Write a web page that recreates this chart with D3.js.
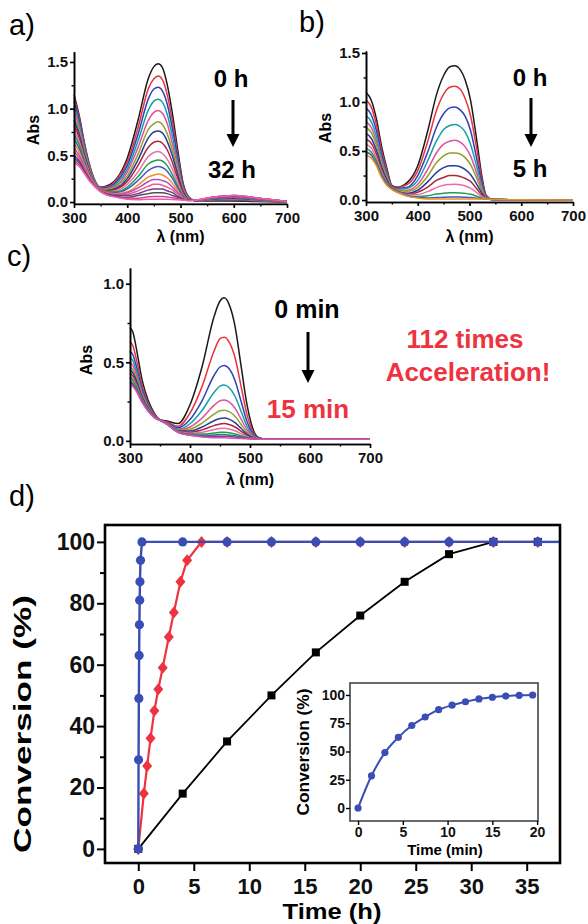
<!DOCTYPE html>
<html><head><meta charset="utf-8">
<script src="https://cdn.jsdelivr.net/npm/d3@7"></script>
<style>body{margin:0;background:#fff} svg{display:block}</style>
</head><body><svg id="c" width="588" height="924"></svg>
<script>
// ---------- Panel a data ----------
const WL_A = [300,310,320,330,340,350,360,380,400,420,440,450,458,466,475,485,495,505,515,530,560,600,640,700];
const ABS_A = [
[1.15,0.92,0.62,0.38,0.22,0.16,0.17,0.25,0.47,0.87,1.33,1.45,1.48,1.44,1.26,0.94,0.55,0.20,0.06,0.01,0.01,0.01,0.005,0],
[1.12,0.898,0.607,0.373,0.218,0.158,0.16,0.24,0.43,0.79,1.22,1.32,1.35,1.31,1.15,0.86,0.50,0.18,0.055,0.012,0.017,0.02,0.012,0.001],
[1.08,0.868,0.589,0.365,0.214,0.155,0.15,0.22,0.39,0.72,1.11,1.21,1.23,1.19,1.05,0.78,0.46,0.17,0.05,0.013,0.02,0.025,0.015,0.002],
[1.03,0.831,0.568,0.354,0.21,0.152,0.14,0.20,0.35,0.65,0.99,1.08,1.10,1.07,0.94,0.70,0.41,0.15,0.05,0.014,0.024,0.03,0.019,0.002],
[0.98,0.794,0.545,0.343,0.206,0.148,0.14,0.18,0.32,0.58,0.88,0.96,0.98,0.95,0.84,0.62,0.37,0.14,0.045,0.015,0.027,0.035,0.022,0.003],
[0.93,0.757,0.524,0.332,0.202,0.145,0.13,0.17,0.28,0.51,0.78,0.84,0.86,0.83,0.73,0.55,0.32,0.12,0.04,0.016,0.031,0.04,0.026,0.003],
[0.88,0.72,0.502,0.321,0.198,0.142,0.12,0.15,0.25,0.45,0.69,0.75,0.76,0.74,0.65,0.49,0.29,0.11,0.037,0.016,0.031,0.04,0.026,0.003],
[0.83,0.683,0.48,0.31,0.194,0.138,0.12,0.14,0.22,0.39,0.59,0.64,0.65,0.63,0.56,0.42,0.25,0.10,0.034,0.017,0.034,0.045,0.03,0.004],
[0.78,0.646,0.458,0.299,0.19,0.135,0.11,0.12,0.19,0.32,0.49,0.53,0.54,0.52,0.46,0.35,0.21,0.08,0.031,0.018,0.038,0.05,0.033,0.004],
[0.73,0.61,0.436,0.288,0.186,0.131,0.11,0.11,0.16,0.27,0.41,0.44,0.45,0.44,0.39,0.29,0.17,0.07,0.028,0.018,0.038,0.05,0.033,0.004],
[0.68,0.572,0.414,0.277,0.181,0.128,0.10,0.10,0.14,0.23,0.34,0.37,0.38,0.37,0.33,0.25,0.15,0.06,0.026,0.019,0.041,0.055,0.036,0.005],
[0.63,0.536,0.392,0.266,0.177,0.124,0.10,0.09,0.11,0.18,0.27,0.29,0.30,0.29,0.26,0.20,0.12,0.05,0.023,0.02,0.045,0.06,0.04,0.005],
[0.58,0.498,0.37,0.255,0.173,0.121,0.095,0.08,0.10,0.15,0.22,0.24,0.24,0.23,0.21,0.16,0.10,0.05,0.022,0.02,0.045,0.06,0.04,0.005],
[0.54,0.469,0.352,0.246,0.17,0.118,0.09,0.07,0.08,0.12,0.17,0.19,0.19,0.18,0.16,0.13,0.08,0.04,0.02,0.021,0.048,0.065,0.043,0.006],
[0.50,0.439,0.335,0.238,0.167,0.116,0.09,0.07,0.07,0.09,0.13,0.14,0.14,0.14,0.12,0.10,0.06,0.03,0.02,0.021,0.048,0.065,0.043,0.006],
[0.47,0.417,0.322,0.231,0.164,0.113,0.085,0.06,0.05,0.07,0.09,0.10,0.10,0.10,0.09,0.07,0.05,0.03,0.02,0.022,0.052,0.07,0.047,0.006],
[0.44,0.395,0.309,0.224,0.162,0.111,0.08,0.055,0.04,0.04,0.056,0.06,0.06,0.06,0.054,0.045,0.034,0.025,0.016,0.022,0.052,0.07,0.047,0.006],
[0.42,0.38,0.30,0.22,0.16,0.11,0.08,0.05,0.03,0.025,0.03,0.03,0.03,0.03,0.03,0.026,0.024,0.02,0.015,0.022,0.052,0.07,0.047,0.006]
];
const COLORS_A = ["#1a1a1a","#e8343c","#3040b8","#14a0a8","#e0509c","#94a02c","#283c9c","#a8283c","#f06aa8","#20a04a","#4058c8","#f09020","#b050c0","#f05890","#703898","#505050","#d040a8","#f060a8"];

// ---------- Panel b data ----------
const WL_B = [300,310,320,330,340,350,360,380,400,420,436,450,462,472,482,492,502,514,524,532,545,600,700];
const ABS_B = [
[1.10,1.02,0.83,0.55,0.33,0.15,0.13,0.18,0.35,0.72,1.07,1.27,1.36,1.37,1.33,1.22,1.02,0.61,0.24,0.05,0.005,0.003,0],
[1.02,0.95,0.77,0.51,0.31,0.14,0.13,0.16,0.30,0.61,0.91,1.08,1.15,1.16,1.13,1.03,0.86,0.52,0.21,0.045,0.005,0.003,0],
[0.94,0.87,0.71,0.47,0.28,0.14,0.12,0.13,0.25,0.50,0.74,0.88,0.94,0.95,0.92,0.85,0.71,0.42,0.17,0.04,0.005,0.003,0],
[0.86,0.80,0.65,0.43,0.26,0.13,0.11,0.12,0.20,0.41,0.60,0.72,0.76,0.77,0.75,0.69,0.57,0.34,0.14,0.03,0.005,0.003,0],
[0.80,0.74,0.60,0.40,0.24,0.13,0.10,0.10,0.16,0.32,0.48,0.57,0.60,0.61,0.59,0.54,0.45,0.27,0.11,0.03,0.005,0.003,0],
[0.74,0.69,0.56,0.37,0.23,0.13,0.10,0.09,0.13,0.25,0.38,0.45,0.48,0.48,0.47,0.43,0.36,0.22,0.09,0.024,0.005,0.003,0],
[0.68,0.63,0.51,0.34,0.21,0.12,0.09,0.07,0.10,0.19,0.28,0.33,0.35,0.35,0.34,0.31,0.26,0.16,0.07,0.02,0.005,0.003,0],
[0.62,0.58,0.47,0.31,0.19,0.12,0.09,0.06,0.08,0.135,0.20,0.23,0.25,0.25,0.24,0.22,0.19,0.115,0.05,0.017,0.005,0.003,0],
[0.57,0.53,0.43,0.29,0.18,0.11,0.086,0.055,0.056,0.088,0.127,0.15,0.158,0.16,0.156,0.144,0.121,0.076,0.036,0.015,0.005,0.003,0],
[0.53,0.49,0.40,0.27,0.17,0.11,0.083,0.047,0.036,0.044,0.061,0.07,0.074,0.075,0.073,0.068,0.058,0.039,0.021,0.012,0.005,0.003,0],
[0.49,0.46,0.37,0.25,0.16,0.11,0.081,0.042,0.025,0.02,0.026,0.029,0.03,0.03,0.03,0.028,0.025,0.019,0.013,0.01,0.005,0.003,0],
[0.46,0.43,0.35,0.23,0.15,0.108,0.08,0.04,0.02,0.01,0.01,0.01,0.01,0.01,0.01,0.01,0.01,0.01,0.01,0.01,0.005,0.003,0]
];
const COLORS_B = ["#1a1a1a","#e8343c","#3040b8","#14a0a8","#e0509c","#94a02c","#283c9c","#a8283c","#f06aa8","#20a04a","#4058c8","#f09020"];

// ---------- Panel c data ----------
const WL_C = [300,305,310,320,330,340,350,360,380,400,420,440,450,457,465,475,485,495,505,515,530,600,700];
const ABS_C = [
[0.72,0.69,0.60,0.39,0.26,0.18,0.135,0.128,0.11,0.23,0.47,0.79,0.89,0.91,0.87,0.73,0.48,0.23,0.074,0.02,0.01,0.01,0.01],
[0.63,0.604,0.53,0.354,0.243,0.173,0.134,0.123,0.093,0.176,0.345,0.57,0.65,0.66,0.63,0.53,0.35,0.167,0.057,0.017,0.01,0.01,0.01],
[0.57,0.546,0.483,0.33,0.231,0.167,0.133,0.119,0.083,0.136,0.255,0.416,0.47,0.48,0.46,0.384,0.254,0.123,0.044,0.016,0.01,0.01,0.01],
[0.53,0.508,0.452,0.313,0.223,0.164,0.132,0.117,0.075,0.109,0.193,0.308,0.348,0.355,0.34,0.284,0.189,0.093,0.035,0.014,0.01,0.01,0.01],
[0.50,0.479,0.429,0.301,0.217,0.162,0.132,0.115,0.069,0.088,0.145,0.226,0.255,0.26,0.248,0.208,0.14,0.071,0.029,0.013,0.01,0.01,0.01],
[0.47,0.451,0.406,0.289,0.211,0.159,0.132,0.114,0.066,0.074,0.113,0.17,0.192,0.195,0.186,0.156,0.106,0.055,0.024,0.013,0.01,0.01,0.01],
[0.45,0.431,0.39,0.281,0.208,0.158,0.131,0.113,0.063,0.063,0.088,0.128,0.143,0.145,0.138,0.116,0.08,0.043,0.021,0.012,0.01,0.01,0.01],
[0.43,0.412,0.374,0.273,0.204,0.156,0.131,0.112,0.06,0.055,0.07,0.097,0.108,0.11,0.104,0.088,0.062,0.035,0.018,0.012,0.01,0.01,0.01],
[0.41,0.393,0.359,0.265,0.20,0.154,0.131,0.111,0.059,0.048,0.055,0.072,0.079,0.08,0.076,0.064,0.046,0.027,0.016,0.011,0.01,0.01,0.01],
[0.40,0.383,0.351,0.261,0.198,0.153,0.131,0.11,0.057,0.043,0.043,0.05,0.054,0.055,0.052,0.044,0.033,0.021,0.014,0.011,0.01,0.01,0.01],
[0.38,0.364,0.336,0.253,0.194,0.152,0.13,0.11,0.056,0.039,0.035,0.037,0.04,0.04,0.037,0.032,0.025,0.018,0.013,0.011,0.01,0.01,0.01],
[0.37,0.355,0.328,0.249,0.192,0.151,0.13,0.11,0.055,0.037,0.03,0.029,0.03,0.03,0.028,0.024,0.02,0.015,0.013,0.011,0.01,0.01,0.01],
[0.36,0.345,0.32,0.245,0.19,0.15,0.13,0.11,0.055,0.035,0.025,0.02,0.02,0.02,0.018,0.016,0.015,0.013,0.012,0.011,0.01,0.01,0.01]
];
const COLORS_C = ["#1a1a1a","#e8343c","#3040b8","#14a0a8","#e0509c","#94a02c","#283c9c","#a8283c","#f06aa8","#20a04a","#208080","#8040a0","#e050b0"];

const WL_TICKS = [300,400,500,600,700];
const WL_MINOR = [350,450,550,650];

// ---------- Panel d data ----------
const BLACK_T = [0,4,8,12,16,20,24,28,32,36];
const BLACK_V = [0,18,35,50,64,76,87,96,100,100];
const RED_T = [0,0.5,0.8,1.1,1.45,1.8,2.2,2.75,3.2,3.8,4.4,5.7,8,12,16,20,24,28,32,36];
const RED_V = [0,18,27,36,45,52,59,69,77,87,94,100,100,100,100,100,100,100,100,100];
const BLUE_T = [0,0.025,0.05,0.075,0.1,0.125,0.15,0.2,0.33,4,8,12,16,20,24,28,32,36];
const BLUE_V = [0,29,49,63,73,81,87,94,100,100,100,100,100,100,100,100,100,100];
const D_XTICKS = [0,5,10,15,20,25,30,35];
const D_YTICKS = [0,20,40,60,80,100];
const D_YMINOR = [10,30,50,70,90];

// ---------- Inset data ----------
const INSET_T = [0,1.5,3,4.5,6,7.5,9,10.5,12,13.5,15,16.5,18,19.5];
const INSET_V = [0,28.5,49,62.5,73,80.5,87,91,94,96.5,98,99,99.7,100];
const IN_XTICKS = [0,5,10,15,20];
const IN_YTICKS = [0,25,50,75,100];

const FONT = 'Arial, "Liberation Sans", Helvetica, sans-serif';
const RED = "#ee3340", BLUE = "#3a4db5";
const svg = d3.select('#c');

function styleAxis(sel, size, sw) {
  sel.attr('font-family', null).attr('font-size', null);
  sel.selectAll('text').attr('font-family', FONT).attr('font-size', size).attr('font-weight', 'bold').attr('fill', '#111');
  sel.selectAll('line').attr('stroke', '#000').attr('stroke-width', sw);
  sel.selectAll('path.domain').attr('stroke', '#000').attr('stroke-width', sw);
}

function txt(x, y, s, size, opts = {}) {
  const t = svg.append('text').attr('x', x).attr('y', y).text(s)
    .attr('font-family', FONT).attr('font-size', size)
    .attr('font-weight', opts.weight || 'bold').attr('fill', opts.fill || '#000')
    .attr('text-anchor', opts.anchor || 'middle');
  if (opts.rotate) t.attr('transform', `rotate(-90,${x},${y})`);
  if (opts.len) t.attr('textLength', opts.len).attr('lengthAdjust', 'spacingAndGlyphs');
  return t;
}

function arrow(x, y1, y2, w) {
  svg.append('line').attr('x1', x).attr('x2', x).attr('y1', y1).attr('y2', y2 - 10)
    .attr('stroke', '#000').attr('stroke-width', 3);
  svg.append('path').attr('d', `M${x - w / 2},${y2 - 13} L${x + w / 2},${y2 - 13} L${x},${y2} Z`).attr('fill', '#000');
}

function spectra(cfg) {
  const g = svg.append('g');
  const x = d3.scaleLinear().domain([300, 700]).range([cfg.x0, cfg.x1]);
  const y = d3.scaleLinear().domain([cfg.ymin, cfg.ymax]).range([cfg.yb, cfg.yt]);
  const line = d3.line().x((d, i) => x(cfg.wl[i])).y(d => y(d)).curve(d3.curveMonotoneX);
  g.append('g').selectAll('path').data(cfg.rows).join('path')
    .attr('d', line).attr('fill', 'none')
    .attr('stroke', (d, i) => cfg.colors[i]).attr('stroke-width', 1.5);
  g.append('g').attr('transform', `translate(0,${cfg.yb})`)
    .call(d3.axisBottom(x).tickValues(WL_MINOR).tickSize(2.5).tickFormat('').tickSizeOuter(0))
    .call(s => styleAxis(s, 13, 1.4));
  g.append('g').attr('transform', `translate(${cfg.x0},0)`)
    .call(d3.axisLeft(y).tickValues(cfg.yminor).tickSize(2.5).tickFormat('').tickSizeOuter(0))
    .call(s => styleAxis(s, 13, 1.4));
  g.append('g').attr('transform', `translate(0,${cfg.yb})`)
    .call(d3.axisBottom(x).tickValues(WL_TICKS).tickSize(4).tickPadding(4).tickSizeOuter(0))
    .call(s => styleAxis(s, 15, 1.7));
  g.append('g').attr('transform', `translate(${cfg.x0},0)`)
    .call(d3.axisLeft(y).tickValues(cfg.yticks).tickFormat(d3.format('.1f')).tickSize(4).tickPadding(2).tickSizeOuter(0))
    .call(s => styleAxis(s, 15, 1.7));
  txt(cfg.absX, cfg.absY, 'Abs', 16, { rotate: true });
  txt((cfg.x0 + cfg.x1) / 2, cfg.lamY, 'λ (nm)', 16);
}

// Panel labels
txt(9, 35, 'a)', 29, { weight: 'normal', anchor: 'start' });
txt(299, 32, 'b)', 29, { weight: 'normal', anchor: 'start' });
txt(7, 266, 'c)', 29, { weight: 'normal', anchor: 'start' });
txt(9, 506, 'd)', 29, { weight: 'normal', anchor: 'start' });

spectra({ wl: WL_A, rows: ABS_A, colors: COLORS_A, x0: 74, x1: 287, ymin: -0.02, ymax: 1.61, yb: 203.9, yt: 51.7,
  yticks: [0, 0.5, 1.0, 1.5], yminor: [0.25, 0.75, 1.25], absX: 39, absY: 130, lamY: 242 });
spectra({ wl: WL_B, rows: ABS_B, colors: COLORS_B, x0: 366, x1: 573, ymin: -0.02, ymax: 1.52, yb: 202, yt: 51,
  yticks: [0, 0.5, 1.0, 1.5], yminor: [0.25, 0.75, 1.25], absX: 331, absY: 128, lamY: 242 });
spectra({ wl: WL_C, rows: ABS_C, colors: COLORS_C, x0: 130, x1: 370, ymin: -0.02, ymax: 1.1, yb: 444, yt: 268,
  yticks: [0, 0.5, 1.0], yminor: [0.25, 0.75], absX: 92, absY: 360, lamY: 485 });

// Annotations
txt(231, 87, '0 h', 24);
arrow(233, 100, 147, 13);
txt(232, 178, '32 h', 24);
txt(530, 86, '0 h', 24);
arrow(531, 98, 147, 13);
txt(530, 177, '5 h', 24);
txt(307, 318, '0 min', 25);
arrow(308, 332, 383, 13);
txt(308, 418, '15 min', 26, { fill: RED });
txt(465, 348, '112 times', 26, { fill: RED });
txt(468, 381, 'Acceleration!', 26, { fill: RED });

// ---------- Panel d ----------
const xD = d3.scaleLinear().domain([-3, 38]).range([105, 560]);
const yD = d3.scaleLinear().domain([-4.6, 105.5]).range([863, 525]);
const gd = svg.append('g');
const clip = svg.append('clipPath').attr('id', 'dclip');
clip.append('rect').attr('x', 105).attr('y', 525).attr('width', 455).attr('height', 338);
const plot = gd.append('g').attr('clip-path', 'url(#dclip)');

function series(T, V, color, width) {
  const pts = T.map((t, i) => [t, V[i]]);
  plot.append('path').datum(pts).attr('d', d3.line().x(d => xD(d[0])).y(d => yD(d[1])))
    .attr('fill', 'none').attr('stroke', color).attr('stroke-width', width);
  return pts;
}
const bp = series(BLACK_T, BLACK_V, '#000', 1.8);
plot.append('g').selectAll('rect').data(bp).join('rect')
  .attr('x', d => xD(d[0]) - 4).attr('y', d => yD(d[1]) - 4).attr('width', 8).attr('height', 8).attr('fill', '#000');
const rp = series(RED_T, RED_V, RED, 2.2);
plot.append('g').selectAll('path').data(rp).join('path')
  .attr('d', d => { const cx = xD(d[0]), cy = yD(d[1]); return `M${cx},${cy - 6}L${cx + 5},${cy}L${cx},${cy + 6}L${cx - 5},${cy}Z`; })
  .attr('fill', RED);
const blp = series(BLUE_T, BLUE_V, BLUE, 2.4);
plot.append('path').datum([[BLUE_T[BLUE_T.length - 1], 100], [38, 100]])
  .attr('d', d3.line().x(d => xD(d[0])).y(d => yD(d[1]))).attr('stroke', BLUE).attr('stroke-width', 2.4);
plot.append('g').selectAll('circle').data(blp).join('circle')
  .attr('cx', d => xD(d[0])).attr('cy', d => yD(d[1])).attr('r', 4.6).attr('fill', BLUE);

gd.append('rect').attr('x', 105).attr('y', 525).attr('width', 455).attr('height', 338)
  .attr('fill', 'none').attr('stroke', '#000').attr('stroke-width', 2.6);
gd.append('g').attr('transform', 'translate(105,0)')
  .call(d3.axisLeft(yD).tickValues(D_YMINOR).tickSize(5).tickFormat('').tickSizeOuter(0))
  .call(s => { styleAxis(s, 23, 2); s.select('.domain').remove(); });
gd.append('g').attr('transform', 'translate(105,0)')
  .call(d3.axisLeft(yD).tickValues(D_YTICKS).tickSize(8).tickPadding(2).tickSizeOuter(0))
  .call(s => { styleAxis(s, 23, 2); s.select('.domain').remove(); });
gd.append('g').attr('transform', 'translate(0,863)')
  .call(d3.axisBottom(xD).tickValues(D_XTICKS).tickSize(8).tickPadding(7).tickSizeOuter(0))
  .call(s => { styleAxis(s, 22, 2); s.select('.domain').remove(); });
txt(31, 724, 'Conversion (%)', 24, { rotate: true, len: 258 });
txt(332, 919, 'Time (h)', 22, { len: 99 });

// ---------- Inset ----------
const xI = d3.scaleLinear().domain([-0.9, 20.1]).range([350, 538]);
const yI = d3.scaleLinear().domain([-11.5, 110.6]).range([821, 683]);
gd.append('rect').attr('x', 350).attr('y', 683).attr('width', 188).attr('height', 138)
  .attr('fill', '#fff').attr('stroke', '#444').attr('stroke-width', 1.6);
const ipts = INSET_T.map((t, i) => [t, INSET_V[i]]);
gd.append('path').datum(ipts).attr('d', d3.line().x(d => xI(d[0])).y(d => yI(d[1])).curve(d3.curveMonotoneX))
  .attr('fill', 'none').attr('stroke', BLUE).attr('stroke-width', 2);
gd.append('g').selectAll('circle').data(ipts).join('circle')
  .attr('cx', d => xI(d[0])).attr('cy', d => yI(d[1])).attr('r', 3.6).attr('fill', BLUE);
gd.append('g').attr('transform', 'translate(350,0)')
  .call(d3.axisLeft(yI).tickValues(IN_YTICKS).tickSize(4).tickPadding(1).tickSizeOuter(0))
  .call(s => { styleAxis(s, 14, 1.4); s.select('.domain').remove(); });
gd.append('g').attr('transform', 'translate(0,821)')
  .call(d3.axisBottom(xI).tickValues(IN_XTICKS).tickSize(4).tickPadding(2).tickSizeOuter(0))
  .call(s => { styleAxis(s, 14, 1.4); s.select('.domain').remove(); });
txt(309, 752, 'Conversion (%)', 16, { rotate: true, len: 127 });
txt(445, 855, 'Time (min)', 15);
</script></body></html>
